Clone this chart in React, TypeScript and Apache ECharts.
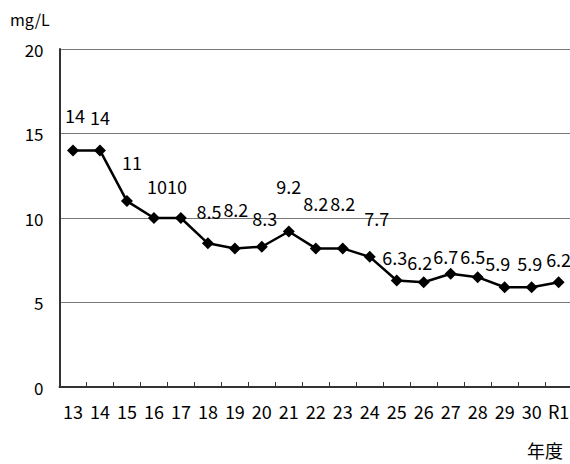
import React, { useEffect, useRef } from "react";
import * as echarts from "echarts";

const categories = ["13", "14", "15", "16", "17", "18", "19", "20", "21", "22", "23", "24", "25", "26", "27", "28", "29", "30", "R1"];
const values = [14, 14, 11, 10, 10, 8.5, 8.2, 8.3, 9.2, 8.2, 8.2, 7.7, 6.3, 6.2, 6.7, 6.5, 5.9, 5.9, 6.2];
const yTicks = [0, 5, 10, 15, 20];
const unitLabel = "mg/L";
const xAxisTitle = "年度";
// label displacement (px) from each marker, as placed in the source chart
const labelOffsets: [number, number][] = [
  [2, -35], [0, -33], [5, -39], [3, -32], [-4, -32], [1, -32], [1, -39], [3, -29], [0, -46], [0, -45],
  [0, -45], [7, -39], [-2, -24], [-4, -20], [-5, -18], [-5, -21], [-7, -24], [-2, -24], [0, -23],
];

const FONT = "'Noto Sans CJK JP', 'Noto Sans', sans-serif";

export default function App() {
  const ref = useRef<HTMLDivElement>(null);
  useEffect(() => {
    if (!ref.current) return;
    const chart = echarts.init(ref.current, undefined, { renderer: "svg" });
    chart.setOption({
      animation: false,
      backgroundColor: "#fff",
      textStyle: { fontFamily: FONT },
      grid: { left: 59.5, top: 49, width: 512.6, height: 338, containLabel: false },
      xAxis: {
        type: "category",
        data: categories,
        boundaryGap: true,
        axisLine: { show: true, lineStyle: { color: "#333", width: 2 } },
        axisTick: { show: true, inside: true, length: 5, alignWithLabel: false, lineStyle: { color: "#333", width: 1 } },
        axisLabel: { color: "#000", fontSize: 18, margin: 15, fontFamily: FONT, interval: 0 },
        splitLine: { show: false },
      },
      yAxis: {
        type: "value",
        min: yTicks[0],
        max: yTicks[yTicks.length - 1],
        interval: 5,
        axisLine: { show: true, lineStyle: { color: "#333", width: 2 } },
        axisTick: { show: false },
        axisLabel: { color: "#000", fontSize: 17, margin: 16, fontFamily: FONT },
        splitLine: { show: true, lineStyle: { color: "#777", width: 1 } },
      },
      graphic: [
        { type: "text", left: 10, top: 11, style: { text: unitLabel, fontSize: 16, fill: "#000", fontFamily: FONT } },
        { type: "text", left: 527, top: 441, style: { text: xAxisTitle, fontSize: 18, fill: "#000", fontFamily: FONT } },
      ],
      series: [
        {
          type: "line",
          data: values.map((v, i) => ({
            value: v,
            label: { offset: labelOffsets[i] },
          })),
          symbol: "diamond",
          symbolSize: 12,
          lineStyle: { color: "#000", width: 2.5 },
          itemStyle: { color: "#000" },
          label: {
            show: true,
            position: "inside",
            color: "#000",
            fontSize: 18,
            fontFamily: FONT,
          },
        },
      ],
    });
    return () => chart.dispose();
  }, []);
  return (
    <div style={{ position: "fixed", left: 0, top: 0, right: 0, bottom: 0, overflow: "hidden" }}>
      <div ref={ref} style={{ width: 580, height: 464 }} />
    </div>
  );
}
